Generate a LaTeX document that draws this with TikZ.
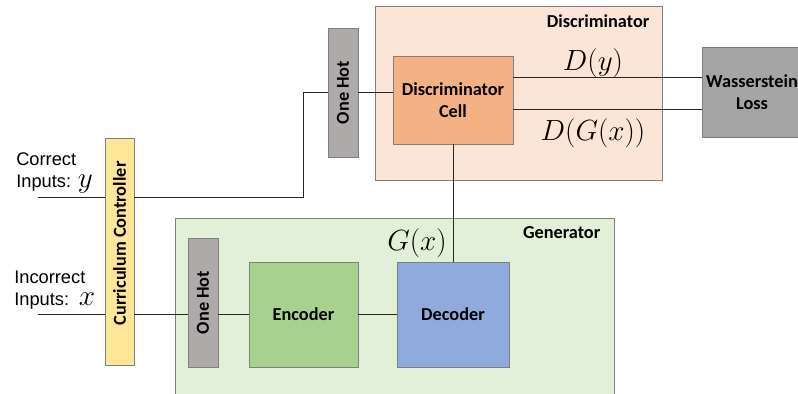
\documentclass[tikz,border=0pt]{standalone}
\usepackage{fontspec}
\newfontfamily\calibri{Carlito}
\newfontfamily\arialfont{Liberation Sans}
\usetikzlibrary{positioning, calc}

\definecolor{discbg}{HTML}{FBE5D6}
\definecolor{cellfill}{HTML}{F4B183}
\definecolor{hotfill}{HTML}{AEAAAA}
\definecolor{lossfill}{HTML}{A5A5A5}
\definecolor{currfill}{HTML}{FFE699}
\definecolor{genbg}{HTML}{E2F0D9}
\definecolor{encfill}{HTML}{A9D18E}
\definecolor{decfill}{HTML}{8FAADC}
\definecolor{edge}{HTML}{7F7F7F}

\begin{document}
\begin{tikzpicture}[
    block/.style={draw=edge, thin, inner sep=0pt},
    boxtext/.style={font=\calibri\bfseries\fontsize{13}{15.5}\selectfont, align=center},
    heading/.style={font=\calibri\bfseries\fontsize{13}{15}\selectfont},
    wire/.style={line width=0.6pt, black!85},
    maths/.style={font=\fontsize{21}{23}\selectfont},
    inlabel/.style={font=\arialfont\fontsize{13}{16}\selectfont, align=left, anchor=west, inner sep=0pt},
]
\useasboundingbox (0,0) rectangle (19.95,9.85);

% ===================== REGIONS =====================
\node[block, fill=discbg, minimum width=7.175cm, minimum height=4.35cm]
      (disc) at (12.9625, 7.525) {};
\node[heading, anchor=east] at ($(disc.north east)+(-0.2,-0.375)$) {Discriminator};

\node[block, fill=genbg, minimum width=10.975cm, minimum height=4.55cm]
      (gen) at (9.8625, 2.125) {};
\node[heading, anchor=east] at ($(gen.north east)+(-0.225,-0.375)$) {Generator};

% ===================== BLOCKS =====================
\node[block, fill=cellfill, minimum width=3cm, minimum height=2.2cm]
      (cell) at (11.325, 7.35) {};
\node[boxtext] at (cell.center) {Discriminator\\Cell};

\node[block, fill=hotfill, minimum width=0.75cm, minimum height=3.225cm]
      (ohd) at (8.575, 7.5375) {};
\node[boxtext, rotate=90] at (ohd.center) {One Hot};

\node[block, fill=lossfill, minimum width=2.7cm, minimum height=2.25cm]
      (wass) at (18.9, 7.55) {};
\node[boxtext] at ($(wass.center)+(-0.1,0)$) {Wasserstein\\Loss};

\node[block, fill=currfill, minimum width=0.725cm, minimum height=5.675cm]
      (curr) at (2.9875, 3.5625) {};
\node[boxtext, rotate=90] at ($(curr.center)+(0,0.2)$) {Curriculum Controller};

\node[block, fill=hotfill, minimum width=0.75cm, minimum height=3.225cm]
      (ohg) at (5.075, 2.2875) {};
\node[boxtext, rotate=90] at (ohg.center) {One Hot};

\node[block, fill=encfill, minimum width=2.725cm, minimum height=2.625cm]
      (enc) at (7.5875, 1.9875) {};
\node[boxtext] at (enc.center) {Encoder};

\node[block, fill=decfill, minimum width=2.8cm, minimum height=2.625cm]
      (dec) at (11.325, 1.9875) {};
\node[boxtext] at (dec.center) {Decoder};

% ===================== INPUTS =====================
\coordinate (yin) at (0.95, 4.925);
\coordinate (xin) at (0.95, 1.9875);
\coordinate (bend) at (7.575, 4.925);

\node[inlabel] (ylab) at (0.4, 5.525) {Correct\\Inputs: {\fontsize{20}{16}\selectfont$y$}};
\node[inlabel] (xlab) at (0.35, 2.6) {Incorrect\\Inputs: \,{\fontsize{20}{16}\selectfont$x$}};

% ===================== WIRES =====================
\draw[wire] (yin) -- (yin -| curr.west);
\draw[wire] (yin -| curr.east) -- (bend) |- (ohd.west);
\draw[wire] (ohd.east) -- (ohd.east -| cell.west);

\draw[wire] (xin) -- (xin -| curr.west);
\draw[wire] (xin -| curr.east) -- (xin -| ohg.west);
\draw[wire] (xin -| ohg.east) -- (enc.west);
\draw[wire] (enc.east) -- (dec.west);

\draw[wire] (cell.south) -- (dec.north);
\draw[wire] ($(cell.east)+(0,0.575)$) -- ($(wass.west)+(0,0.375)$);
\draw[wire] ($(cell.east)+(0,-0.225)$) -- ($(wass.west)+(0,-0.425)$);

% ===================== OUTPUT LABELS =====================
\node[maths] (dy) at (14.825, 8.275) {$D(y)$};
\node[maths] (dgx) at (14.825, 6.525) {$D(G(x))$};
\node[maths] (gx) at (10.425, 3.775) {$G(x)$};

\end{tikzpicture}
\end{document}
